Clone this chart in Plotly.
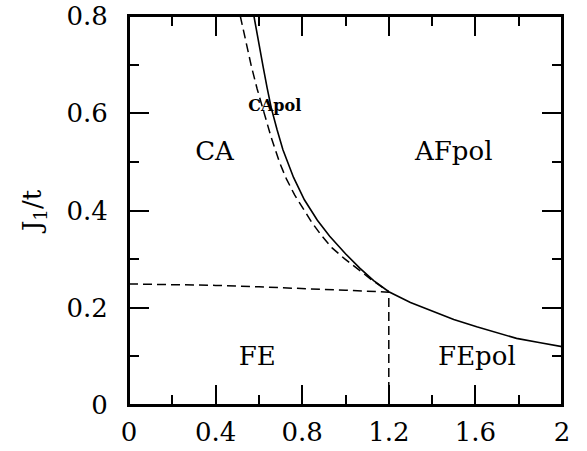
import plotly.graph_objects as go

# Phase boundaries
solid_x = [0.577, 0.598, 0.619, 0.638, 0.657, 0.684, 0.711, 0.76, 0.81, 0.87, 0.927, 1.0, 1.066, 1.13, 1.2, 1.3, 1.405, 1.5, 1.606, 1.7, 1.79, 1.9, 2.0]
solid_y = [0.8, 0.745, 0.697, 0.652, 0.611, 0.566, 0.525, 0.468, 0.422, 0.38, 0.347, 0.311, 0.2815, 0.256, 0.233, 0.211, 0.193, 0.176, 0.161, 0.148, 0.137, 0.128, 0.12]

dash_curve_x = [0.514, 0.54, 0.565, 0.592, 0.619, 0.657, 0.696, 0.727, 0.765, 0.805, 0.845, 0.89, 0.938, 0.995, 1.053, 1.125, 1.2]
dash_curve_y = [0.8, 0.746, 0.697, 0.65, 0.607, 0.55, 0.498, 0.465, 0.432, 0.402, 0.375, 0.348, 0.323, 0.301, 0.281, 0.256, 0.233]

dash_horiz_x = [0.0, 0.2, 0.4, 0.6, 0.8, 1.0, 1.2]
dash_horiz_y = [0.249, 0.248, 0.246, 0.243, 0.240, 0.236, 0.232]

dash_vert_x = [1.2, 1.2]
dash_vert_y = [0.0, 0.232]

# Region labels
labels = ["CA", "AFpol", "FE", "FEpol"]
label_x = [0.395, 1.50, 0.592, 1.607]
label_y = [0.517, 0.518, 0.096, 0.096]
small_label = "CApol"
small_label_x = 0.673
small_label_y = 0.612

x_ticks = [0, 0.4, 0.8, 1.2, 1.6, 2]
y_ticks = [0, 0.2, 0.4, 0.6, 0.8]

FONT = "DejaVu Serif"

fig = go.Figure()
fig.add_trace(go.Scatter(x=solid_x, y=solid_y, mode="lines",
                         line=dict(color="black", width=1.6),
                         showlegend=False, hoverinfo="skip"))
fig.add_trace(go.Scatter(x=dash_curve_x, y=dash_curve_y, mode="lines",
                         line=dict(color="black", width=1.5, dash="9px,5px"),
                         showlegend=False, hoverinfo="skip"))
fig.add_trace(go.Scatter(x=dash_horiz_x, y=dash_horiz_y, mode="lines",
                         line=dict(color="black", width=1.5, dash="9px,5px"),
                         showlegend=False, hoverinfo="skip"))
fig.add_trace(go.Scatter(x=dash_vert_x, y=dash_vert_y, mode="lines",
                         line=dict(color="black", width=1.5, dash="9px,5px"),
                         showlegend=False, hoverinfo="skip"))
fig.add_trace(go.Scatter(x=label_x, y=label_y, mode="text", text=labels,
                         textfont=dict(family=FONT, size=26, color="black"),
                         showlegend=False, hoverinfo="skip"))
fig.add_trace(go.Scatter(x=[small_label_x], y=[small_label_y], mode="text",
                         text=["<b>" + small_label + "</b>"],
                         textfont=dict(family=FONT, size=16, color="black"),
                         showlegend=False, hoverinfo="skip"))

axis_common = dict(showline=True, linecolor="black", linewidth=2, mirror="ticks",
                   ticks="inside", ticklen=20, tickwidth=1.5, tickcolor="black",
                   showgrid=False, zeroline=False, automargin=False,
                   ticklabeloverflow="allow",
                   tickfont=dict(family=FONT, size=26, color="black"))

fig.update_xaxes(range=[0, 2], tickvals=x_ticks, ticktext=[str(v) for v in x_ticks],
                 minor=dict(ticks="inside", ticklen=10, tickwidth=1.5, tickcolor="black", dtick=0.2, tick0=0),
                 ticklabelstandoff=3, **axis_common)
fig.update_yaxes(range=[0, 0.8], tickvals=y_ticks, ticktext=[str(v) for v in y_ticks],
                 minor=dict(ticks="inside", ticklen=10, tickwidth=1.5, tickcolor="black", dtick=0.1, tick0=0),
                 ticklabelstandoff=14,
                 title=dict(text="J<sub>1</sub>/t", font=dict(family=FONT, size=26, color="black"), standoff=17),
                 **axis_common)

# full frame around the plot area
fig.add_shape(type="rect", xref="paper", yref="paper", x0=0, x1=1, y0=0, y1=1,
              line=dict(color="black", width=2), fillcolor="rgba(0,0,0,0)", layer="above")

fig.update_layout(width=587, height=451, margin=dict(l=129, r=25, t=16, b=46),
                  plot_bgcolor="white", paper_bgcolor="white")

fig.write_html("out.html", config={"displayModeBar": False},
               post_script="document.body.style.margin='0';")
